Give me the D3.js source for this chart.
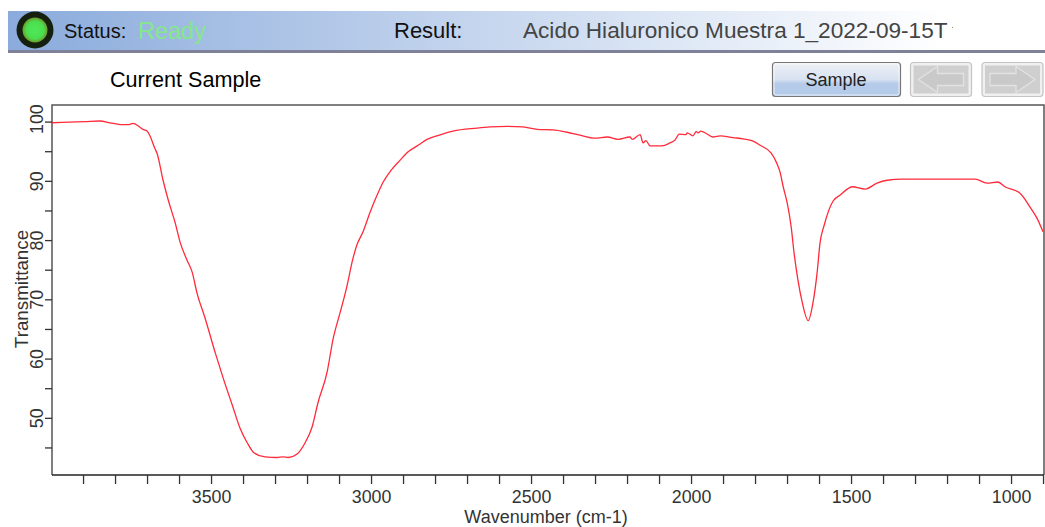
<!DOCTYPE html>
<html lang="en">
<head>
  <title>Current Sample</title>
  <meta charset="utf-8">
  <script src="https://cdn.jsdelivr.net/npm/d3@7"></script>
  <style>
    html, body { margin: 0; padding: 0; background: #fff; overflow: hidden; }
    svg { display: block; }
    text { font-family: "Liberation Sans", Arial, sans-serif; }
    .axis path { display: none; }
    .axis line { stroke: #333; stroke-width: 1.3px; }
    .axis text { fill: #333; font-size: 17.8px; }
  </style>
</head>
<body>
<svg width="1045" height="527"></svg>
<script>

// spectrum
var wavenumbers = [3997, 3894, 3847, 3816, 3784, 3756, 3744, 3713, 3700, 3691, 3675, 3669, 3650, 3634, 3612, 3597, 3575, 3559, 3544,
  3519, 3487, 3462, 3434, 3409, 3387, 3366, 3331, 3294, 3275, 3259, 3231, 3206, 3184, 3166, 3137, 3119, 3097, 3078, 3056, 3044, 3025,
  3003, 2981, 2962, 2937, 2909, 2884, 2853, 2825, 2794, 2744, 2669, 2628, 2575, 2525, 2481, 2431, 2387, 2347, 2300, 2262, 2228, 2191,
  2184, 2159, 2150, 2141, 2128, 2091, 2066, 2050, 2037, 2016, 2012, 1994, 1984, 1978, 1969, 1950, 1931, 1909, 1869, 1837, 1806, 1784,
  1750, 1734, 1722, 1712, 1700, 1687, 1678, 1666, 1653, 1634, 1619, 1606, 1597, 1584, 1569, 1556, 1534, 1512, 1497, 1456, 1419, 1387,
  1341, 1294, 1112, 1075, 1041, 1019, 972, 941, 919, 900];
var transmittance = [99.8, 100, 100.1, 99.8, 99.5, 99.5, 99.7, 98.7, 98.4, 97.6, 95.4, 94.7, 90.1, 86.8, 82.9, 79.7, 76.6, 74.6, 71.1,
  66.9, 61, 56.7, 52.2, 48.2, 45.8, 44.1, 43.4, 43.3, 43.4, 43.3, 43.9, 45.8, 48.5, 52.5, 57.8, 63.2, 67.7, 71.6, 77, 79.2, 81.4,
  84.7, 87.6, 89.8, 91.8, 93.5, 94.9, 96, 97, 97.6, 98.4, 98.9, 99.1, 99.2, 99.1, 98.7, 98.6, 98.2, 97.7, 97.2, 97.4, 97, 97.4,
  97, 97.8, 96.4, 96.8, 95.9, 95.9, 96.4, 96.9, 97.9, 97.8, 98.1, 97.6, 98.3, 98.1, 98.4, 97.9, 97.4, 97.6, 97.3, 97.1, 96.7, 96,
  94.7, 93.2, 91.5, 89, 86.4, 82.2, 77.8, 73.3, 69.6, 66.4, 69.4, 74.5, 79.5, 82.5, 85.1, 86.6, 87.6, 88.6, 89, 88.6, 89.6, 90.1,
  90.3, 90.3, 90.3, 89.6, 89.8, 89, 87.9, 85.6, 83.7, 81.4];

var xTicks = d3.range(3900, 899, -100);
var xLabels = [3500, 3000, 2500, 2000, 1500, 1000];
var yTicks = [45, 50, 55, 60, 65, 70, 75, 80, 85, 90, 95, 100];
var yLabels = [50, 60, 70, 80, 90, 100];

var sampleName = "Acido Hialuronico Muestra 1_2022-09-15T";

var svg = d3.select("svg"),
    margin = {top: 105, right: 1, bottom: 52, left: 52},
    width = +svg.attr("width") - margin.left - margin.right,
    height = +svg.attr("height") - margin.top - margin.bottom;

var defs = svg.append("defs");

var barGrad = defs.append("linearGradient").attr("id", "barGrad");
barGrad.append("stop").attr("offset", "0%").attr("stop-color", "#8aabdc");
barGrad.append("stop").attr("offset", "100%").attr("stop-color", "#ffffff");

var btnGrad = defs.append("linearGradient").attr("id", "btnGrad").attr("x2", 0).attr("y2", 1);
btnGrad.append("stop").attr("offset", "0%").attr("stop-color", "#eef1f6");
btnGrad.append("stop").attr("offset", "50%").attr("stop-color", "#d8e2f1");
btnGrad.append("stop").attr("offset", "62%").attr("stop-color", "#b5cbe9");
btnGrad.append("stop").attr("offset", "100%").attr("stop-color", "#b3cbea");

var ledGrad = defs.append("radialGradient").attr("id", "ledGrad");
ledGrad.append("stop").attr("offset", "0%").attr("stop-color", "#4fe85a");
ledGrad.append("stop").attr("offset", "70%").attr("stop-color", "#4ade4f");
ledGrad.append("stop").attr("offset", "100%").attr("stop-color", "#6f9a2a");

// status bar
svg.append("rect").attr("x", 8).attr("y", 11).attr("width", 937).attr("height", 40).attr("fill", "url(#barGrad)");
svg.append("rect").attr("x", 8).attr("y", 50).attr("width", 1037).attr("height", 3).attr("fill", "#7f8198");
svg.append("circle").attr("cx", 35).attr("cy", 30).attr("r", 18.5).attr("fill", "#15200f");
svg.append("circle").attr("cx", 35).attr("cy", 30).attr("r", 12.5).attr("fill", "url(#ledGrad)");

svg.append("text").attr("x", 64).attr("y", 38).attr("font-size", 20).attr("fill", "#111").text("Status:");
svg.append("text").attr("x", 138).attr("y", 39).attr("font-size", 23.5).attr("fill", "#84e88a").text("Ready");
svg.append("text").attr("x", 394).attr("y", 38).attr("font-size", 22).attr("fill", "#111").text("Result:");
svg.append("text").attr("x", 523).attr("y", 38).attr("font-size", 22.6).attr("fill", "#444").text(sampleName);
svg.append("rect").attr("x", 952).attr("y", 27).attr("width", 1).attr("height", 1).attr("fill", "#b08a60");

svg.append("text").attr("x", 110).attr("y", 87).attr("font-size", 21.6).attr("fill", "#000").text("Current Sample");

// buttons
svg.append("rect").attr("x", 772.5).attr("y", 62.5).attr("width", 128).attr("height", 34).attr("rx", 3)
    .attr("fill", "url(#btnGrad)").attr("stroke", "#777").attr("stroke-width", 1.2);
svg.append("rect").attr("x", 774).attr("y", 64).attr("width", 125).attr("height", 31).attr("rx", 2)
    .attr("fill", "none").attr("stroke", "#fff").attr("stroke-opacity", 0.7);
svg.append("text").attr("x", 836).attr("y", 86).attr("text-anchor", "middle").attr("font-size", 18).attr("fill", "#222").text("Sample");

[{x: 910.5, dir: -1}, {x: 982, dir: 1}].forEach(function(b) {
  var g = svg.append("g").attr("transform", "translate(" + b.x + ",62.5)");
  g.append("rect").attr("width", 61).attr("height", 34).attr("rx", 3)
      .attr("fill", "#f0f0f0").attr("stroke", "#c4c4c4").attr("stroke-width", 1.2);
  g.append("rect").attr("x", 3).attr("y", 3).attr("width", 55).attr("height", 28)
      .attr("fill", "#cfcfcf");
  g.append("path")
      .attr("transform", b.dir < 0 ? "translate(61,0) scale(-1,1)" : null)
      .attr("d", "M8,11H34V4L53,17L34,30V23H8Z")
      .attr("fill", "#c9c9c9").attr("stroke", "#e2e2e2").attr("stroke-width", 1.3);
});

// plot
var x = d3.scaleLinear().domain([3997, 897]).range([0, width]);
var y = d3.scaleLinear().domain([40.35, 102.8]).range([height, 0]);

var g = svg.append("g").attr("transform", "translate(" + margin.left + "," + margin.top + ")");

g.append("path").attr("d", "M0," + height + "V0H" + width + "V" + height)
    .attr("fill", "none").attr("stroke", "#555").attr("stroke-width", 1.5);
g.append("line").attr("x1", 0).attr("x2", width).attr("y1", height).attr("y2", height)
    .attr("stroke", "#222").attr("stroke-width", 1.5);

g.append("g")
    .attr("class", "axis axis--x")
    .attr("transform", "translate(0," + height + ")")
    .call(d3.axisBottom(x).tickValues(xTicks).tickSize(9).tickPadding(6)
      .tickFormat(function(d) { return xLabels.indexOf(d) >= 0 ? d : ""; }));

g.append("g")
    .attr("class", "axis axis--y")
    .call(d3.axisLeft(y).tickValues(yTicks).tickSize(7).tickPadding(0)
      .tickFormat(function(d) { return yLabels.indexOf(d) >= 0 ? d : ""; }))
  .selectAll("text")
    .attr("x", 0)
    .attr("y", 0)
    .attr("dy", 0)
    .attr("text-anchor", "middle")
    // the top label sits a little above its tick in the original
    .attr("transform", function(d) { return "translate(-9," + (d === 100 ? -3 : 0) + ") rotate(-90)"; });

var line = d3.line()
    .curve(d3.curveMonotoneX)
    .x(function(d) { return x(d); })
    .y(function(d, i) { return y(transmittance[i]); });

g.append("path")
    .attr("d", line(wavenumbers))
    .attr("fill", "none")
    .attr("stroke", "#ff2a3a")
    .attr("stroke-width", 1.3);

svg.append("text").attr("x", 546).attr("y", 523).attr("text-anchor", "middle")
    .attr("font-size", 18).attr("fill", "#333").text("Wavenumber (cm-1)");
svg.append("text").attr("transform", "translate(28,289) rotate(-90)").attr("text-anchor", "middle")
    .attr("font-size", 18.8).attr("fill", "#333").text("Transmittance");

</script>
</body>
</html>
